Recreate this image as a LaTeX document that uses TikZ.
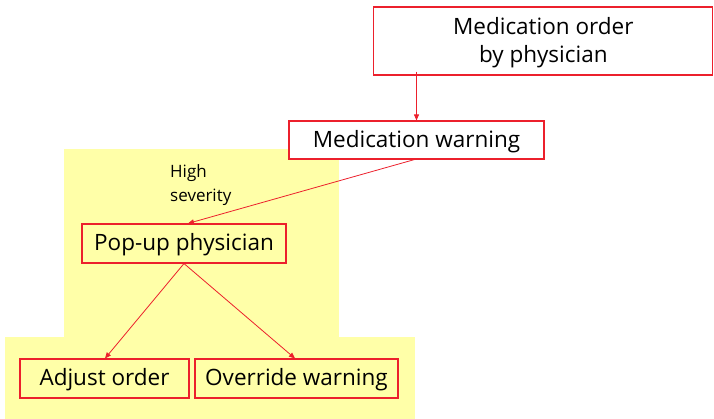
\documentclass[tikz,border=0pt]{standalone}
\usepackage{fontspec}
\setmainfont{Open Sans}
\usetikzlibrary{arrows.meta}
\definecolor{boxred}{RGB}{236,32,44}
\definecolor{padyellow}{RGB}{255,255,168}
% strut that gives every box line the same height and depth
\newcommand\linestrut{\rule[-4pt]{0pt}{24pt}}
\tikzset{
  stepbox/.style={draw=boxred, line width=1.1pt, fill=white, inner sep=0pt,
    font=\fontsize{22.5}{28}\selectfont, align=center},
  flow/.style={draw=boxred, line width=0.8pt, -{Triangle[length=6pt,width=5pt]}},
}
\begin{document}
\begin{tikzpicture}[x=1pt,y=-1pt]
  \useasboundingbox (0,0) rectangle (714,419);
  % highlighted zones
  \fill[padyellow] (64,149) rectangle (339,338);
  \fill[padyellow] (5,337) rectangle (415,419);

  \node[stepbox, minimum width=339pt, minimum height=68pt] (order) at (543.3,41) {\linestrut Medication order\\\linestrut by physician};
  \node[stepbox, minimum width=255pt, minimum height=38pt] (warn) at (416.5,140) {\linestrut Medication warning};
  \node[stepbox, fill=none, minimum width=204pt, minimum height=39pt] (popup) at (184,243.5) {\linestrut Pop-up physician};
  \node[stepbox, fill=none, minimum width=169pt, minimum height=39pt] (adjust) at (104.5,378.5) {\linestrut Adjust order};
  \node[stepbox, fill=none, minimum width=203pt, minimum height=39pt] (override) at (296.5,378.5) {\linestrut Override warning};

  \node[anchor=north west, inner sep=0pt, align=left, font=\fontsize{17}{24}\selectfont] (sev) at (170,164) {High\\severity};

  \draw[flow] ([yshift=4pt]order.south -| warn.north) -- (warn.north);
  \draw[flow] ([xshift=-2pt]warn.south) -- ([xshift=4pt]popup.north);
  \draw[flow] (popup.south) -- ([xshift=0.5pt]adjust.north);
  \draw[flow] (popup.south) -- ([xshift=-1.5pt]override.north);
\end{tikzpicture}
\end{document}
